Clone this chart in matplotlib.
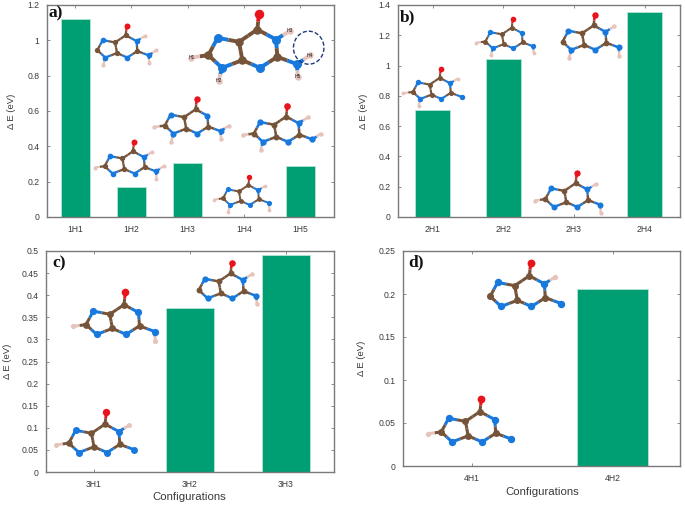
import matplotlib
matplotlib.use("Agg")
import matplotlib.pyplot as plt
from matplotlib.patches import Ellipse

plt.rcParams['font.family'] = ['Liberation Sans', 'DejaVu Sans']

W, H = 685, 505
GREEN = '#009e73'
GREY = '#7a7a7a'
TXT = '#3a3a3a'

labels_a = ['1H1', '1H2', '1H3', '1H4', '1H5']
values_a = [1.12, 0.17, 0.305, 0, 0.29]
labels_b = ['2H1', '2H2', '2H3', '2H4']
values_b = [0.705, 1.045, 0, 1.355]
labels_c = ['3H1', '3H2', '3H3']
values_c = [0, 0.372, 0.492]
labels_d = ['4H1', '4H2']
values_d = [0, 0.206]

yticks_a = [0, 0.2, 0.4, 0.6, 0.8, 1, 1.2]
yticks_b = [0, 0.2, 0.4, 0.6, 0.8, 1, 1.2, 1.4]
yticks_c = [0, 0.05, 0.1, 0.15, 0.2, 0.25, 0.3, 0.35, 0.4, 0.45, 0.5]
yticks_d = [0, 0.05, 0.1, 0.15, 0.2, 0.25]


def panel(box, labels, values, yticks, xlim, width, tag, tag_xy, ylab_px, xlab_xy=None):
    l, t, r, b = box
    ax = fig.add_axes([l / W, 1 - b / H, (r - l) / W, (b - t) / H])
    x = range(len(labels))
    ax.bar(x, values, width=width, color=GREEN, edgecolor='#bfe8da', linewidth=0.5, zorder=2)
    ax.set_xlim(*xlim)
    ax.set_ylim(yticks[0], yticks[-1])
    ax.set_xticks(list(x), labels)
    ax.set_yticks(yticks, [f'{v:g}' for v in yticks])
    ax.tick_params(axis='both', direction='in', top=True, right=True, length=2.5, width=0.6,
                   color=GREY, labelcolor=TXT, labelsize=6.2, pad=5.5)
    ax.tick_params(axis='x', pad=6)
    for s in ax.spines.values():
        s.set_color(GREY)
        s.set_linewidth(1.0)
    ax.set_ylabel('\u0394 E (eV)', fontsize=6.8, color=TXT, va='center')
    ax.yaxis.set_label_coords((ylab_px - l) / (r - l), 0.5)
    if xlab_xy:
        ax.set_xlabel('Configurations', fontsize=8.2, color=TXT, va='center', ha='center')
        ax.xaxis.set_label_coords((xlab_xy[0] - l) / (r - l), (b - xlab_xy[1]) / (b - t))
    fig.text(tag_xy[0] / W, 1 - tag_xy[1] / H, tag, family='Liberation Serif', weight='bold',
             fontsize=12.5, color='#111111', ha='left', va='center', zorder=20)
    return ax


fig = plt.figure(figsize=(6.85, 5.05), dpi=100)

panel((47, 5, 334, 217), labels_a, values_a, yticks_a, (-0.5, 4.6), 0.52, 'a)', (48, 13), 11)
panel((398, 5, 680, 217), labels_b, values_b, yticks_b, (-0.49, 3.5), 0.5, 'b)', (400, 17), 363)
panel((46, 251, 334, 472), labels_c, values_c, yticks_c, (-0.5, 2.5), 0.5, 'c)', (52, 263), 7, (189, 497))
panel((403, 251, 680, 466), labels_d, values_d, yticks_d, (-0.49, 1.48), 0.5, 'd)', (408, 262), 362, (542, 492))

# Molecule illustrations drawn on a pixel-coordinate overlay
ov = fig.add_axes([0, 0, 1, 1], zorder=10)
ov.set_xlim(0, W)
ov.set_ylim(H, 0)
ov.axis('off')
ov.patch.set_alpha(0)

ATOMS = {
    'O': (777, 40), 'C6': (772, 88), 'N1': (828, 118), 'C2': (832, 170), 'N3': (780, 203),
    'C4': (727, 180), 'C5': (717, 125), 'N7': (653, 113), 'C8': (625, 165), 'N9': (666, 203),
    'NX': (891, 192), 'H1': (574, 172), 'H2': (656, 241), 'H3': (870, 92), 'H4': (930, 165),
    'H5': (893, 230),
}
BONDS = [('C6', 'O'), ('C6', 'N1'), ('N1', 'C2'), ('C2', 'N3'), ('N3', 'C4'), ('C4', 'C5'),
         ('C5', 'C6'), ('C5', 'N7'), ('N7', 'C8'), ('C8', 'N9'), ('N9', 'C4'), ('C2', 'NX'),
         ('C8', 'H1'), ('N9', 'H2'), ('N1', 'H3'), ('NX', 'H4'), ('NX', 'H5')]
COL = {'O': '#e8141c', 'C': '#75543a', 'N': '#1878dc', 'H': '#e6c4bc'}
SIZE = {'O': 9.5, 'C': 8.5, 'N': 9.0, 'H': 6.5}


def molecule(ox, oy, s, hs, tags=False):
    """ox, oy: pixel position of the oxygen; s: scale relative to the large sketch."""
    keep = {k for k in ATOMS if not k.startswith('H')} | set(hs)
    P = {k: (ox + (ATOMS[k][0] - ATOMS['O'][0]) * s / 3, oy + (ATOMS[k][1] - ATOMS['O'][1]) * s / 3)
         for k in keep}
    for a, b in BONDS:
        if a in keep and b in keep:
            m = ((P[a][0] + P[b][0]) / 2, (P[a][1] + P[b][1]) / 2)
            lw = 2.8 * s
            ov.plot([P[a][0], m[0]], [P[a][1], m[1]], color=COL[a[0]], lw=lw, solid_capstyle='butt', zorder=1)
            ov.plot([m[0], P[b][0]], [m[1], P[b][1]], color=COL[b[0]], lw=lw, solid_capstyle='butt', zorder=1)
    for k, (x, y) in P.items():
        d = SIZE[k[0]] * s ** 0.85 * 0.72
        ov.scatter([x], [y], s=d ** 2, color=COL[k[0]], linewidths=0, zorder=2)
        if tags and k.startswith('H'):
            ov.text(x, y, k, fontsize=3.6, color='#222222', ha='center', va='center', zorder=3)


# panel a
molecule(259, 13.5, 1.0, ['H1', 'H2', 'H3', 'H4', 'H5'], tags=True)
molecule(126.7, 26, 0.58, ['H2', 'H3', 'H4', 'H5'])
molecule(134, 142, 0.58, ['H1', 'H3', 'H4', 'H5'])
molecule(196.7, 99.3, 0.63, ['H1', 'H2', 'H4', 'H5'])
molecule(249.3, 176.7, 0.52, ['H1', 'H2', 'H3', 'H5'])
molecule(287.3, 106, 0.66, ['H1', 'H2', 'H3', 'H4'])
ov.add_patch(Ellipse((308.7, 47.7), 30.5, 33, fill=False, ec='#1f3a7a', ls=(0, (3, 1.5)), lw=1.0, zorder=4))
# panel b
molecule(345 + 95.7, 69, 0.55, ['H1', 'H2', 'H3'])
molecule(345 + 167.7, 19, 0.54, ['H1', 'H2', 'H5'])
molecule(345 + 231.7, 173.3, 0.62, ['H1', 'H3', 'H5'])
molecule(345 + 249.7, 15.3, 0.635, ['H2', 'H3', 'H5'])
# panel c
molecule(125.3, 245 + 47.3, 0.775, ['H1', 'H5'])
molecule(106.3, 245 + 167.3, 0.74, ['H1', 'H3'])
molecule(231.7, 245 + 18, 0.65, ['H3', 'H5'])
# panel d
molecule(345 + 185.7, 245 + 18, 0.8, ['H3'])
molecule(345 + 136.3, 245 + 154, 0.79, ['H1'])

fig.savefig('out.png', dpi=100)
